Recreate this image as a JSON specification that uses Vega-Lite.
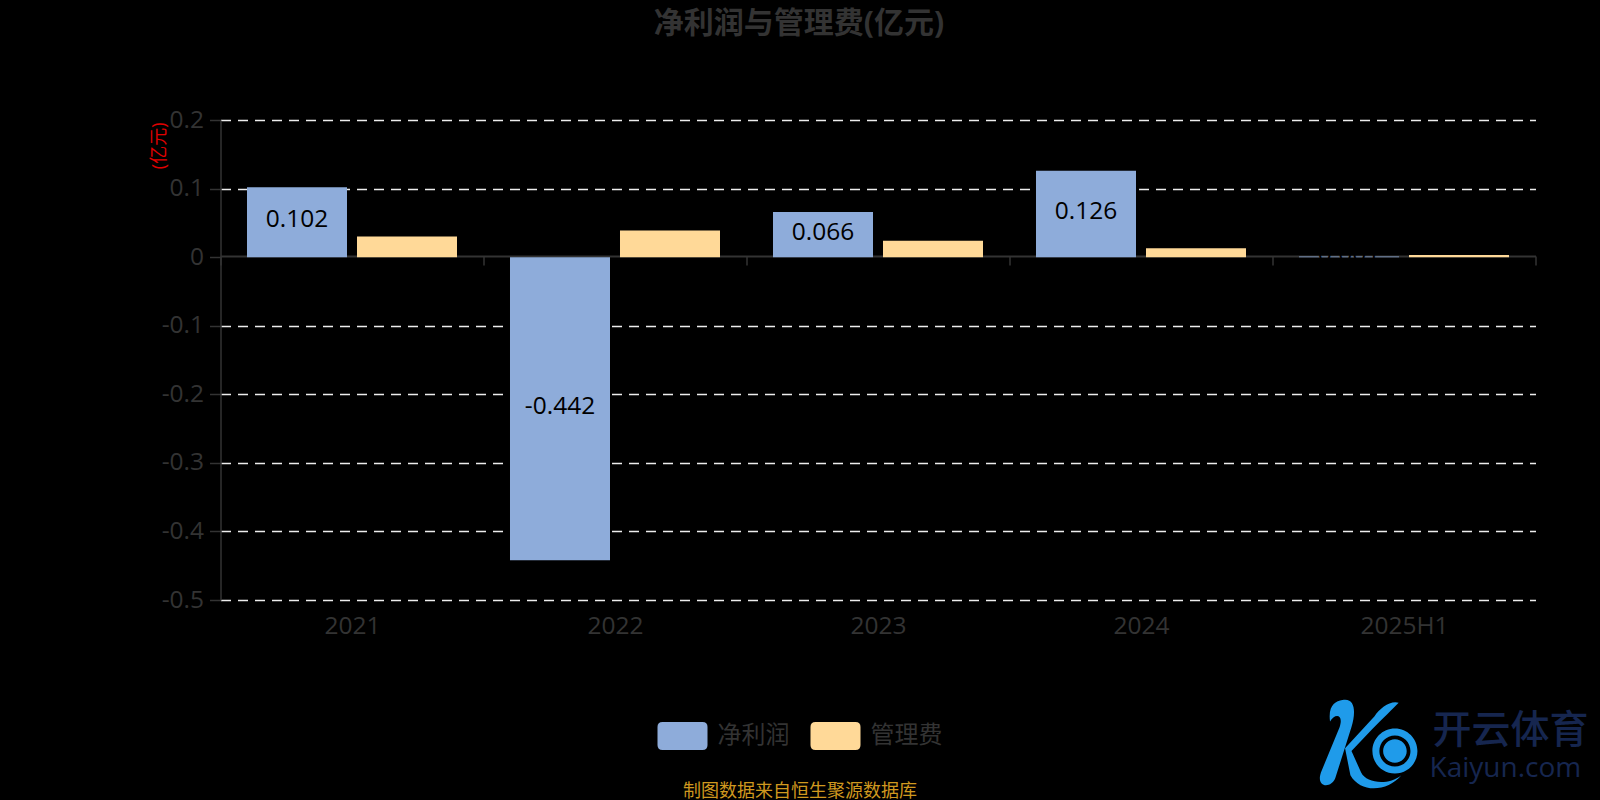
{
"$schema":"https://vega.github.io/schema/vega-lite/v6.json",
"width":1315,"height":480,
"autosize":"none",
"padding":{"left":220.5,"top":120,"right":64.5,"bottom":200},
"background":"#000000",
"title":{"text":"净利润与管理费(亿元)","font":"Open Sans, Noto Sans CJK SC","fontSize":30,"fontWeight":"bold","color":"#333333","anchor":"middle","dx":-79,"offset":68},
"config":{"view":{"stroke":null},"font":"Open Sans, Noto Sans CJK SC"},
"datasets":{"rows":[
{"year":"2021","series":"净利润","value":0.102},
{"year":"2021","series":"管理费","value":0.030},
{"year":"2022","series":"净利润","value":-0.442},
{"year":"2022","series":"管理费","value":0.039},
{"year":"2023","series":"净利润","value":0.066},
{"year":"2023","series":"管理费","value":0.024},
{"year":"2024","series":"净利润","value":0.126},
{"year":"2024","series":"管理费","value":0.013},
{"year":"2025H1","series":"净利润","value":0.001},
{"year":"2025H1","series":"管理费","value":0.003}
]},
"layer":[
{"data":{"name":"rows"},
 "mark":{"type":"bar"},
 "encoding":{
  "x":{"field":"year","type":"ordinal","scale":{"paddingInner":0,"paddingOuter":0},
   "title":"制图数据来自恒生聚源数据库",
   "axis":{"offset":-344,"bandPosition":0,"tickBand":"extent","labelAngle":0,"labelFontSize":24.5,"labelColor":"#333333","labelPadding":349,"labelBound":false,"labelFlush":false,"domainColor":"#333333","domainWidth":2,"tickColor":"#333333","tickWidth":1.5,"tickSize":9,"titleColor":"#cf981f","titleFontSize":18,"titleFontWeight":"normal","titleBaseline":"middle","titleX":579,"titleY":535,"zindex":0}},
  "xOffset":{"field":"series","type":"nominal","scale":{"domain":["净利润","管理费"],"paddingInner":0.0909,"paddingOuter":0.2409}},
  "y":{"field":"value","type":"quantitative","stack":null,"scale":{"domain":[-0.5,0.2],"nice":false,"zero":false},
   "title":"(亿元)",
   "axis":{"values":[-0.5,-0.4,-0.3,-0.2,-0.1,0,0.1,0.2],"labelExpr":"toString(datum.value)","labelFontSize":24.5,"labelColor":"#333333","labelPadding":6,"domainColor":"#333333","domainWidth":1.5,"tickColor":"#333333","tickWidth":1.5,"tickSize":11,"grid":true,"gridColor":{"condition":{"test":"datum.value===0","value":"transparent"},"value":"#ededed"},"gridDash":[10,7],"gridWidth":1.5,"titleColor":"#e00000","titleFontSize":18,"titleFontWeight":"normal","titleAnchor":"end","titleX":-61,"titleY":2,"titleAlign":"right","titleBaseline":"middle"}},
  "color":{"field":"series","type":"nominal","scale":{"domain":["净利润","管理费"],"range":["#8eacda","#ffd998"]},
   "legend":{"orient":"none","legendX":437,"legendY":591,"direction":"horizontal","columns":2,"title":null,"symbolType":"M-0.8,-0.56 H0.8 Q1,-0.56 1,-0.36 V0.36 Q1,0.56 0.8,0.56 H-0.8 Q-1,0.56 -1,0.36 V-0.36 Q-1,-0.56 -0.8,-0.56 Z","symbolSize":2500,"symbolStrokeWidth":0,"symbolOpacity":1,"labelFontSize":24,"labelColor":"#333333","labelOffset":10,"columnPadding":21}}
 }},
{"data":{"name":"rows"},
 "transform":[{"filter":"datum.series==='净利润'"}],
 "mark":{"type":"text","fontSize":24.5,"color":"#000000","dy":-2,"font":"Open Sans, Noto Sans CJK SC"},
 "encoding":{
  "x":{"field":"year","type":"ordinal"},
  "xOffset":{"field":"series","type":"nominal"},
  "y":{"field":"value","type":"quantitative","stack":"zero","bandPosition":0.5},
  "text":{"field":"value","type":"nominal"}
 }},
{"data":{"values":[]},
 "mark":{"type":"point","filled":true,"color":"#1f9bea"},
 "encoding":{
  "shape":{"field":"brand","type":"nominal","scale":{"domain":["开云体育"],"range":["M-0.45,-0.8 C-0.2,-0.85 -0.2,-0.55 -0.28,-0.3 L-0.58,0.65 C-0.65,0.85 -0.95,0.85 -0.85,0.55 L-0.5,-0.3 C-0.42,-0.55 -0.6,-0.55 -0.68,-0.4 C-0.72,-0.7 -0.58,-0.78 -0.45,-0.8 Z M-0.4,0.1 L0.15,-0.5 C0.25,-0.65 0.45,-0.8 0.6,-0.75 C0.5,-0.65 0.3,-0.45 0.1,-0.25 L-0.28,0.15 L-0.1,0.55 C0,0.75 0.4,0.8 0.65,0.6 C0.4,0.9 -0.1,0.95 -0.3,0.6 Z M0.95,0.15 A0.42,0.42 0 1 0 0.11,0.15 A0.42,0.42 0 1 0 0.95,0.15 Z M0.82,0.15 A0.29,0.29 0 1 1 0.24,0.15 A0.29,0.29 0 1 1 0.82,0.15 Z M0.75,0.15 A0.22,0.22 0 1 0 0.31,0.15 A0.22,0.22 0 1 0 0.75,0.15 Z"]},
   "legend":{"orient":"none","legendX":1092,"legendY":569,"title":null,"symbolSize":11500,"symbolFillColor":"#1f9bea","symbolStrokeWidth":0,"symbolOpacity":1,"labelFontSize":39,"labelColor":"#16264f","labelFontWeight":500,"labelOffset":12,"labelBaseline":"alphabetic"}}
 }},
{"data":{"values":[]},
 "mark":{"type":"point"},
 "encoding":{
  "size":{"field":"site","type":"ordinal","scale":{"domain":["Kaiyun.com"],"range":[1]},
   "legend":{"orient":"none","legendX":1209,"legendY":649,"title":null,"symbolOpacity":0,"labelOffset":0,"labelFontSize":28,"labelColor":"#16264f"}}
 }}
]
}
